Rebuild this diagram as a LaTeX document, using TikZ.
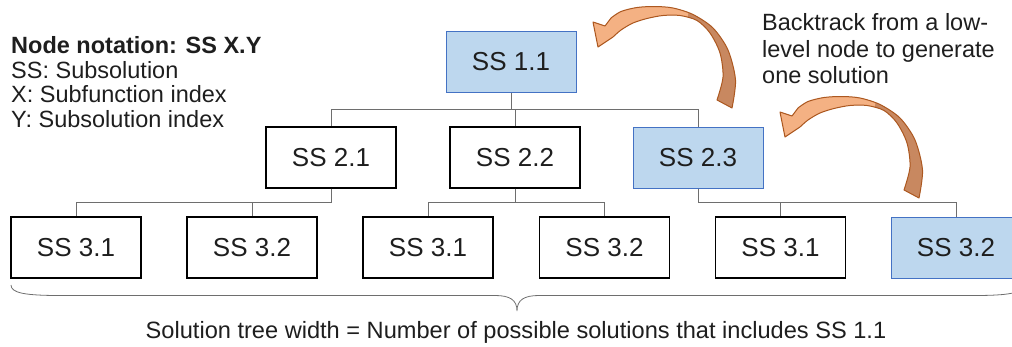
\documentclass[tikz,border=0pt]{standalone}
\usepackage{fontspec}
\setmainfont{Liberation Sans}
\usetikzlibrary{calc}
\definecolor{boxblue}{RGB}{189,215,238}
\definecolor{boxedge}{RGB}{68,114,196}
\definecolor{linegray}{RGB}{110,110,110}
\definecolor{txt}{RGB}{30,30,30}
\definecolor{arrlight}{RGB}{244,177,131}
\definecolor{arrdark}{RGB}{200,136,96}
\definecolor{arredge}{RGB}{172,88,32}
\tikzset{
  pics/bentarrow/.style={code={
    \path[save path=\bentpath]
      (732,108) -- plot[smooth] coordinates {(732,108) (735.5,80) (728,50) (713,28) (693,14.5) (673,8) (655,6.5) (637,7.5) (621,11.5) (611,18)}
      -- (605,26) -- (593,22) -- (598,47) -- (613,37)
      -- plot[smooth] coordinates {(613,37) (621,30) (633,23) (647,18.5) (663,15.5) (680,15.5) (697,20.5) (710,33) (720,53) (723,77) (717,100)}
      -- cycle;
    \fill[arrdark, use path=\bentpath];
    \begin{scope}
      \clip (570,-10) -- (692,-10) -- (684,40) -- (570,70) -- cycle;
      \fill[arrlight, use path=\bentpath];
    \end{scope}
    \draw[arredge, line width=1pt, line join=round, use path=\bentpath];
  }}
}
\begin{document}
\begin{tikzpicture}[x=1pt,y=-1pt,
  ssbox/.style={draw=black, line width=1.3pt, minimum width=130pt, minimum height=61pt,
    inner sep=0pt, text=txt, font=\fontsize{26}{30}\selectfont},
  hlbox/.style={ssbox, fill=boxblue, draw=boxedge, line width=1pt},
  treeline/.style={draw=linegray, line width=0.9pt},
  lbl/.style={anchor=base west, inner sep=0pt, text=txt, font=\fontsize{23.5}{27}\selectfont}]
\useasboundingbox (0,0) rectangle (1012,346);

% tree nodes
\node[hlbox] (n11) at (511,62) {SS 1.1};
\node[ssbox] (n21) at (331,157.5) {SS 2.1};
\node[ssbox] (n22) at (515,157.5) {SS 2.2};
\node[hlbox] (n23) at (698,157.5) {SS 2.3};
\node[ssbox] (n31a) at (76,247.5) {SS 3.1};
\node[ssbox] (n32a) at (252,247.5) {SS 3.2};
\node[ssbox] (n31b) at (428,247.5) {SS 3.1};
\node[ssbox] (n32b) at (604.5,247.5) {SS 3.2};
\node[ssbox] (n31c) at (780.5,247.5) {SS 3.1};
\node[hlbox] (n32c) at (956,247.5) {SS 3.2};

% connectors
\foreach \p/\c in {n11/n21,n11/n22,n11/n23,n21/n31a,n21/n32a,n22/n31b,n22/n32b,n23/n31c,n23/n32c}
  \draw[treeline] (\p.south) |- ($(\p.south)!.5!(\c.north)$) -| (\c.north);

% legend
\node[lbl, font=\fontsize{23.5}{27}\selectfont\bfseries] (lg1) at (11,53) {Node notation: SS X.Y};
\node[lbl] (lg2) at (11,78) {SS: Subsolution};
\node[lbl] (lg3) at (11,102.5) {X: Subfunction index};
\node[lbl] (lg4) at (11,127) {Y: Subsolution index};

% note
\node[lbl] (nt1) at (762,30) {Backtrack from a low-};
\node[lbl] (nt2) at (762,57) {level node to generate};
\node[lbl] (nt3) at (762,83) {one solution};

% backtrack arrows
\pic at (0,0) {bentarrow};
\pic at (187,90) {bentarrow};

% brace
\draw[treeline, line width=0.8pt]
  (11,285) .. controls (11,293) and (25,295.5) .. (60,295.5) -- (495,295.5)
  .. controls (510,295.5) and (517,300) .. (517,311)
  .. controls (517,300) and (524,295.5) .. (539,295.5) -- (974,295.5)
  .. controls (1009,295.5) and (1023,293) .. (1023,285);

\node[anchor=base, inner sep=0pt, text=txt, font=\fontsize{23.6}{27}\selectfont] (cap) at (516,338)
  {Solution tree width = Number of possible solutions that includes SS 1.1};
\end{tikzpicture}
\end{document}
